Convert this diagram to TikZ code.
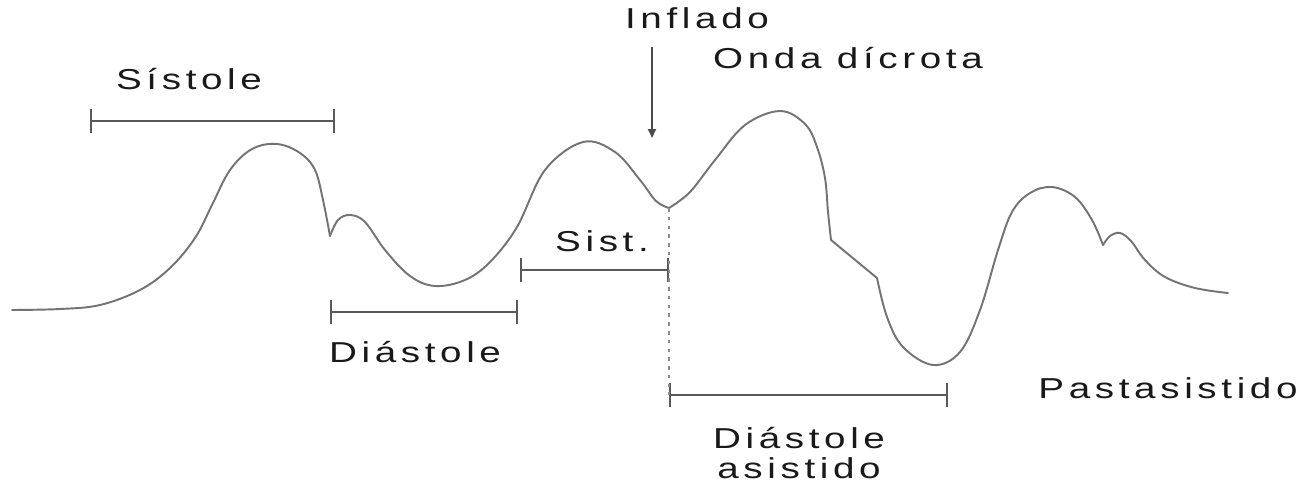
\documentclass[tikz,border=0pt]{standalone}
\usepackage{fontspec}
\setmainfont{Liberation Sans}[LetterSpace=12]
\usepackage{graphicx}
\usepackage{tikz}
\usetikzlibrary{arrows.meta,positioning}
\newcommand{\wide}[1]{\scalebox{1.34}[1]{#1}}

\begin{document}
\begin{tikzpicture}[
  x=0.02cm, y=-0.02cm,
  lbl/.style={inner sep=0pt, text=black!90, font=\fontsize{16.4}{17.4}\selectfont},
  wave/.style={draw=black!55, line width=1.1pt, line cap=round, line join=round},
  span/.style={draw=black!65, line width=1.1pt, {Bar[width=0.48cm]}-{Bar[width=0.48cm]}},
  arr/.style={draw=black!70, line width=1.1pt, -{Triangle[length=0.18cm,width=0.16cm]}}
]
\useasboundingbox (0,0) rectangle (1315,484);

% labels
\node[lbl, anchor=base] (sistole) at (189,89) {\wide{Sístole}};
\node[lbl, anchor=base] (inflado) at (697,28) {\wide{Inflado}};
\node[lbl, anchor=base] (onda) at (848,68) {\wide{Onda dícrota}};
\node[lbl, anchor=base] (sist) at (602,251) {\wide{Sist.}};
\node[lbl, anchor=base] (diastole) at (415,362) {\wide{Diástole}};
\node[lbl, align=center] (asistido) at (799,453) {\wide{Diástole}\\\wide{asistido}};
\node[lbl, anchor=base] (pasta) at (1168,398) {\wide{Pastasistido}};

% interval ends
\coordinate (s1) at (90,121);  \coordinate (s2) at (335,121);
\coordinate (d1) at (330,312); \coordinate (d2) at (518,312);
\coordinate (t1) at (520,270); \coordinate (t2) at (669,270);
\coordinate (a1) at (669,395); \coordinate (a2) at (948,395);
\coordinate (dip) at (669,208);
\coordinate (inftop) at (652,47);
\coordinate (inftip) at (652,138);

% pressure curve
\draw[wave] plot[smooth, tension=0.6] coordinates {
  (12,310) (60,309) (100,305) (140,290) (170,268) (195,238) (212,205)
  (230,170) (252,149) (277,144) (300,153) (315,170) (323,200) (330,236)};
\draw[wave] plot[smooth, tension=0.6] coordinates {
  (330,236) (338,220) (350,215) (365,222) (385,250) (410,276) (435,286)
  (465,280) (490,262) (517,227) (545,170) (583,142) (615,152) (640,180)
  (656,201) (669,208)};
\draw[wave] plot[smooth, tension=0.6] coordinates {
  (669,208) (690,192) (715,160) (745,125) (780,111) (805,124) (817,147)
  (825,178) (828,212) (831,240)};
\draw[wave] (831,240) -- (877,278);
\draw[wave] plot[smooth, tension=0.6] coordinates {
  (877,278) (887,317) (903,347) (933,365) (960,352) (980,310) (998,250)
  (1012,212) (1030,193) (1052,187) (1075,197) (1092,220) (1103,245)};
\draw[wave] plot[smooth, tension=0.6] coordinates {
  (1103,245) (1110,236) (1120,233) (1131,241) (1145,260) (1165,277)
  (1195,288) (1228,293)};

% intervals
\draw[span] (s1) -- (s2);
\draw[span] (d1) -- (d2);
\draw[span] (t1) -- (t2);
\draw[span] (a1) -- (a2);
\draw[draw=black!45, line width=1.1pt, dash pattern=on 2pt off 3pt] (dip) -- (a1);

\draw[arr] (inftop) -- (inftip);
\end{tikzpicture}
\end{document}
